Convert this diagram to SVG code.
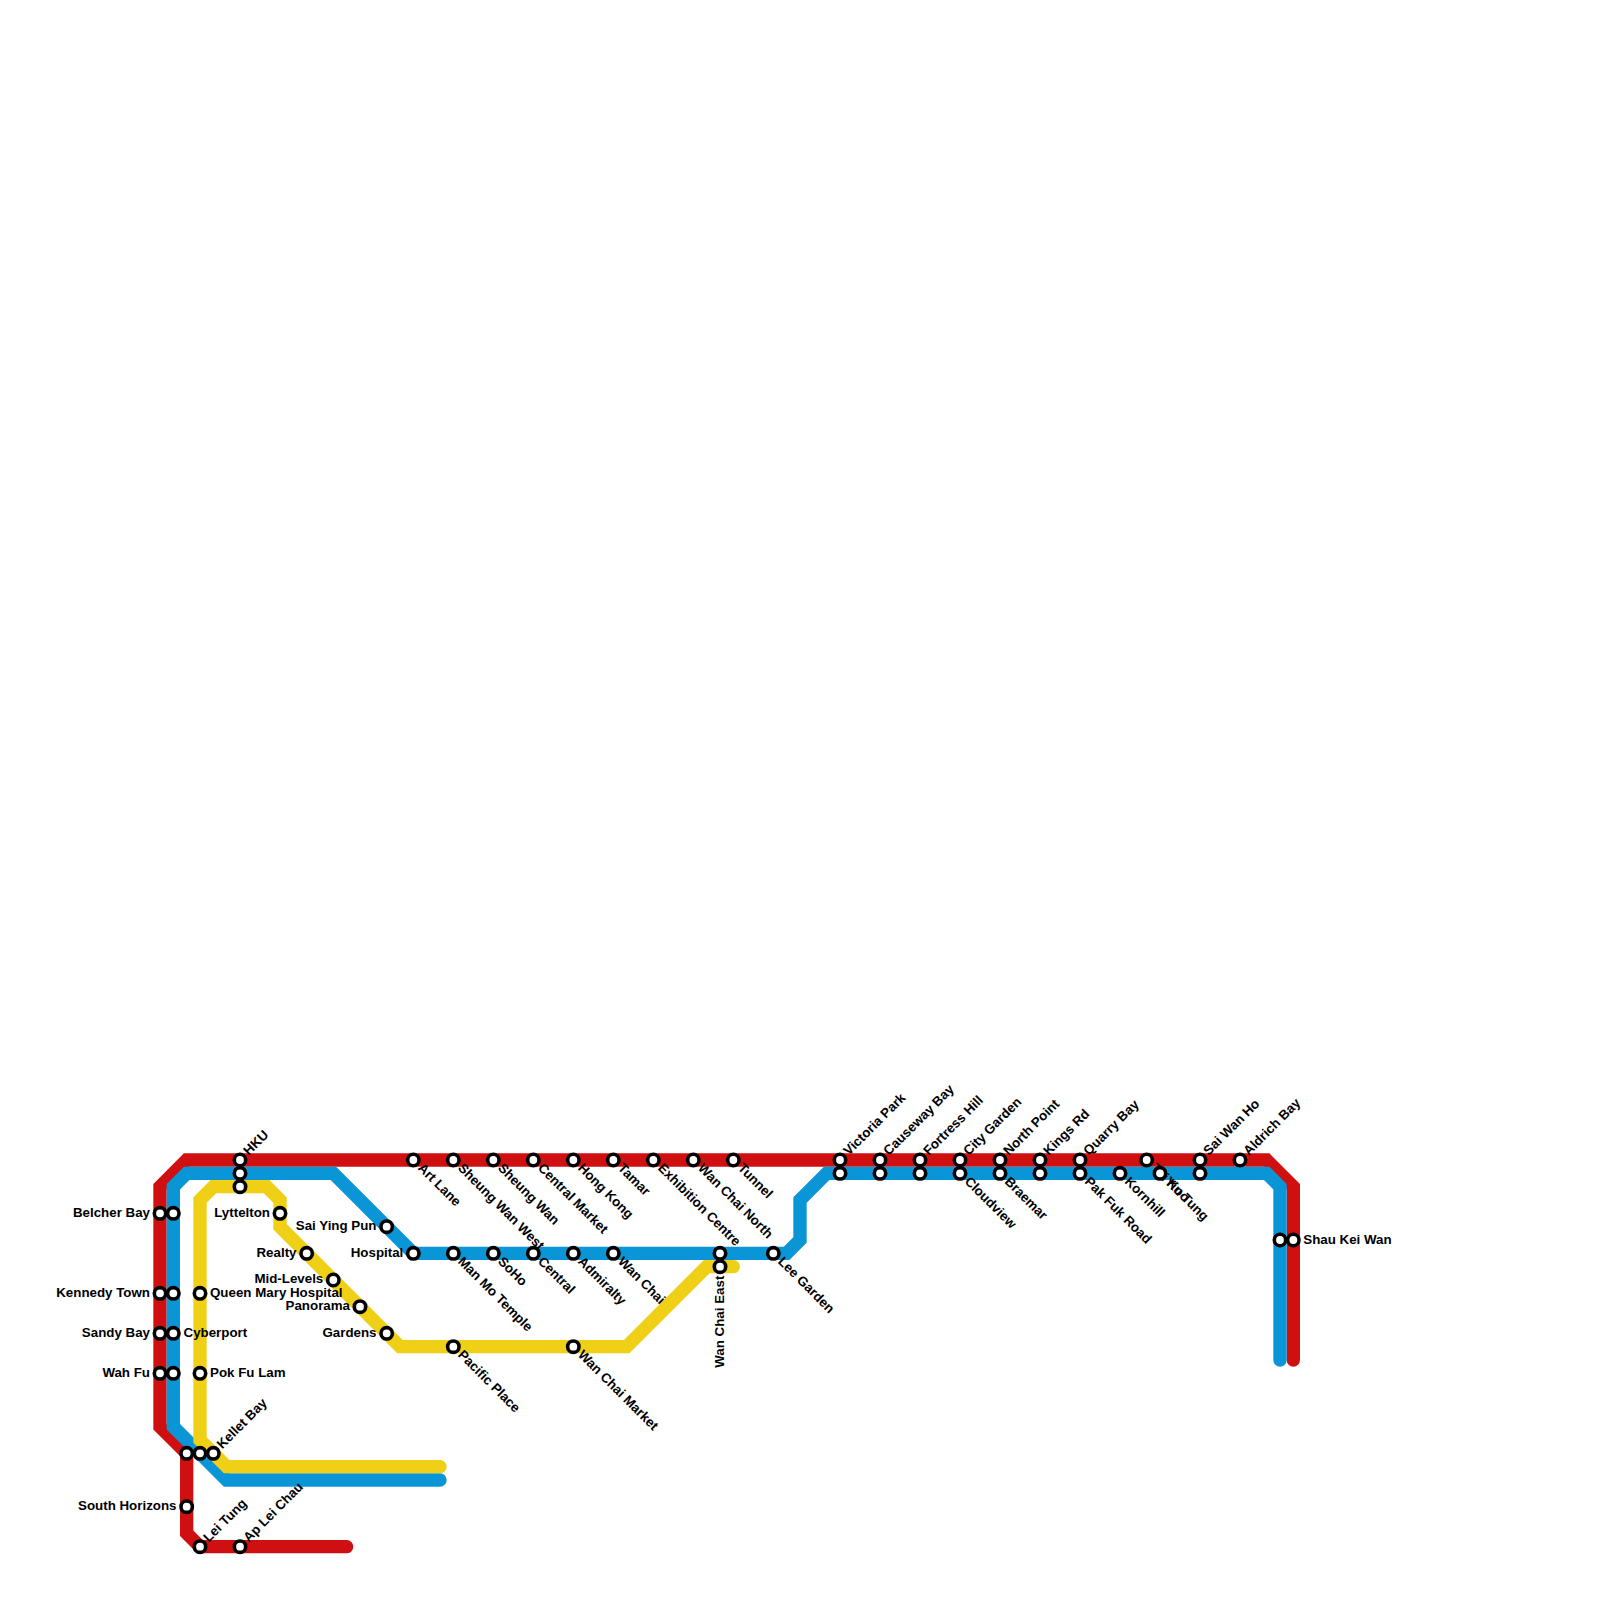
<svg xmlns="http://www.w3.org/2000/svg" width="1600" height="1600" viewBox="0 0 1600 1600">
<style>
.l{fill:none;stroke-width:13.33;stroke-linejoin:miter;stroke-linecap:round}
.s{fill:#fff;stroke:#000;stroke-width:3.6}
text{font-family:"Liberation Sans",Arial,sans-serif;font-size:13.33px;font-weight:bold;fill:#000}
.e{text-anchor:end}
</style>
<rect width="1600" height="1600" fill="#fff"/>
<g id="connectors">
<path class="l" stroke="#d01010" d="M346.67 1546.67H200L186.67 1533.33V1453.33L160 1426.67V1186.67L186.67 1160H1266.67L1293.33 1186.67V1360"/>
<path class="l" stroke="#0a96d6" d="M440 1480H226.67L173.33 1426.67V1186.67L186.67 1173.33H333.33L413.33 1253.33H786.67L800 1240V1200L826.67 1173.33H1266.67L1280 1186.67V1360"/>
<path class="l" stroke="#f0d016" d="M440 1466.67H226.67L200 1440V1200L213.33 1186.67H266.67L280 1200V1226.67L400 1346.67H626.67L706.67 1266.67H733.33"/>
</g>
<g id="n-belcher-bay"><circle class="s" cx="160" cy="1213.33" r="5.7"/><text class="e" x="150" y="1216.5">Belcher Bay</text></g>
<g id="n-kennedy-town"><circle class="s" cx="160" cy="1293.33" r="5.7"/><text class="e" x="150" y="1296.5">Kennedy Town</text></g>
<g id="n-sandy-bay"><circle class="s" cx="160" cy="1333.33" r="5.7"/><text class="e" x="150" y="1336.5">Sandy Bay</text></g>
<g id="n-wah-fu"><circle class="s" cx="160" cy="1373.33" r="5.7"/><text class="e" x="150" y="1376.5">Wah Fu</text></g>
<g id="n-b1"><circle class="s" cx="173.33" cy="1213.33" r="5.7"/></g>
<g id="n-b2"><circle class="s" cx="173.33" cy="1293.33" r="5.7"/></g>
<g id="n-cyberport"><circle class="s" cx="173.33" cy="1333.33" r="5.7"/><text x="183.5" y="1336.5">Cyberport</text></g>
<g id="n-b3"><circle class="s" cx="173.33" cy="1373.33" r="5.7"/></g>
<g id="n-queen-mary"><circle class="s" cx="200" cy="1293.33" r="5.7"/><text x="210" y="1296.5">Queen Mary Hospital</text></g>
<g id="n-pok-fu-lam"><circle class="s" cx="200" cy="1373.33" r="5.7"/><text x="210" y="1376.5">Pok Fu Lam</text></g>
<g id="n-r1"><circle class="s" cx="186.67" cy="1453.33" r="5.7"/></g>
<g id="n-b4"><circle class="s" cx="200" cy="1453.33" r="5.7"/></g>
<g id="n-kellet-bay"><circle class="s" cx="213.33" cy="1453.33" r="5.7"/><text transform="translate(213.33 1453.33) rotate(-45)" x="9" y="3.5">Kellet Bay</text></g>
<g id="n-south-horizons"><circle class="s" cx="186.67" cy="1506.67" r="5.7"/><text class="e" x="176.5" y="1510">South Horizons</text></g>
<g id="n-lei-tung"><circle class="s" cx="200" cy="1546.67" r="5.7"/><text transform="translate(200 1546.67) rotate(-45)" x="9" y="3.5">Lei Tung</text></g>
<g id="n-ap-lei-chau"><circle class="s" cx="240" cy="1546.67" r="5.7"/><text transform="translate(240 1546.67) rotate(-45)" x="9" y="3.5">Ap Lei Chau</text></g>
<g id="n-hku"><circle class="s" cx="240" cy="1160" r="5.7"/><text transform="translate(240 1160) rotate(-45)" x="9" y="3.5">HKU</text></g>
<g id="n-b5"><circle class="s" cx="240" cy="1173.33" r="5.7"/></g>
<g id="n-y1"><circle class="s" cx="240" cy="1186.67" r="5.7"/></g>
<g id="n-lyttelton"><circle class="s" cx="280" cy="1213.33" r="5.7"/><text class="e" x="270" y="1216.5">Lyttelton</text></g>
<g id="n-realty"><circle class="s" cx="306.67" cy="1253.33" r="5.7"/><text class="e" x="296.5" y="1256.5">Realty</text></g>
<g id="n-mid-levels"><circle class="s" cx="333.33" cy="1280" r="5.7"/><text class="e" x="323.3" y="1283.2">Mid-Levels</text></g>
<g id="n-panorama"><circle class="s" cx="360" cy="1306.67" r="5.7"/><text class="e" x="350" y="1309.8">Panorama</text></g>
<g id="n-gardens"><circle class="s" cx="386.67" cy="1333.33" r="5.7"/><text class="e" x="376.5" y="1336.5">Gardens</text></g>
<g id="n-sai-ying-pun"><circle class="s" cx="386.67" cy="1226.67" r="5.7"/><text class="e" x="376.5" y="1229.8">Sai Ying Pun</text></g>
<g id="n-hospital"><circle class="s" cx="413.33" cy="1253.33" r="5.7"/><text class="e" x="403.3" y="1256.5">Hospital</text></g>
<g id="n-art-lane"><circle class="s" cx="413.33" cy="1160" r="5.7"/><text transform="translate(413.33 1160) rotate(45)" x="9" y="3.5">Art Lane</text></g>
<g id="n-sheung-wan-west"><circle class="s" cx="453.33" cy="1160" r="5.7"/><text transform="translate(453.33 1160) rotate(45)" x="9" y="3.5">Sheung Wan West</text></g>
<g id="n-sheung-wan"><circle class="s" cx="493.33" cy="1160" r="5.7"/><text transform="translate(493.33 1160) rotate(45)" x="9" y="3.5">Sheung Wan</text></g>
<g id="n-central-market"><circle class="s" cx="533.33" cy="1160" r="5.7"/><text transform="translate(533.33 1160) rotate(45)" x="9" y="3.5">Central Market</text></g>
<g id="n-hong-kong"><circle class="s" cx="573.33" cy="1160" r="5.7"/><text transform="translate(573.33 1160) rotate(45)" x="9" y="3.5">Hong Kong</text></g>
<g id="n-tamar"><circle class="s" cx="613.33" cy="1160" r="5.7"/><text transform="translate(613.33 1160) rotate(45)" x="9" y="3.5">Tamar</text></g>
<g id="n-exhibition-centre"><circle class="s" cx="653.33" cy="1160" r="5.7"/><text transform="translate(653.33 1160) rotate(45)" x="9" y="3.5">Exhibition Centre</text></g>
<g id="n-wan-chai-north"><circle class="s" cx="693.33" cy="1160" r="5.7"/><text transform="translate(693.33 1160) rotate(45)" x="9" y="3.5">Wan Chai North</text></g>
<g id="n-tunnel"><circle class="s" cx="733.33" cy="1160" r="5.7"/><text transform="translate(733.33 1160) rotate(45)" x="9" y="3.5">Tunnel</text></g>
<g id="n-man-mo-temple"><circle class="s" cx="453.33" cy="1253.33" r="5.7"/><text transform="translate(453.33 1253.33) rotate(45)" x="9" y="3.5">Man Mo Temple</text></g>
<g id="n-soho"><circle class="s" cx="493.33" cy="1253.33" r="5.7"/><text transform="translate(493.33 1253.33) rotate(45)" x="9" y="3.5">SoHo</text></g>
<g id="n-central"><circle class="s" cx="533.33" cy="1253.33" r="5.7"/><text transform="translate(533.33 1253.33) rotate(45)" x="9" y="3.5">Central</text></g>
<g id="n-admiralty"><circle class="s" cx="573.33" cy="1253.33" r="5.7"/><text transform="translate(573.33 1253.33) rotate(45)" x="9" y="3.5">Admiralty</text></g>
<g id="n-wan-chai"><circle class="s" cx="613.33" cy="1253.33" r="5.7"/><text transform="translate(613.33 1253.33) rotate(45)" x="9" y="3.5">Wan Chai</text></g>
<g id="n-b6"><circle class="s" cx="720" cy="1253.33" r="5.7"/></g>
<g id="n-lee-garden"><circle class="s" cx="773.33" cy="1253.33" r="5.7"/><text transform="translate(773.33 1253.33) rotate(45)" x="9" y="3.5">Lee Garden</text></g>
<g id="n-pacific-place"><circle class="s" cx="453.33" cy="1346.67" r="5.7"/><text transform="translate(453.33 1346.67) rotate(45)" x="9" y="3.5">Pacific Place</text></g>
<g id="n-wan-chai-market"><circle class="s" cx="573.33" cy="1346.67" r="5.7"/><text transform="translate(573.33 1346.67) rotate(45)" x="9" y="3.5">Wan Chai Market</text></g>
<g id="n-wan-chai-east"><circle class="s" cx="720" cy="1266.67" r="5.7"/><text class="e" transform="translate(720 1266.67) rotate(-90)" x="-9" y="3.5">Wan Chai East</text></g>
<g id="n-victoria-park"><circle class="s" cx="840" cy="1160" r="5.7"/><text transform="translate(840 1160) rotate(-45)" x="9" y="3.5">Victoria Park</text></g>
<g id="n-causeway-bay"><circle class="s" cx="880" cy="1160" r="5.7"/><text transform="translate(880 1160) rotate(-45)" x="9" y="3.5">Causeway Bay</text></g>
<g id="n-fortress-hill"><circle class="s" cx="920" cy="1160" r="5.7"/><text transform="translate(920 1160) rotate(-45)" x="9" y="3.5">Fortress Hill</text></g>
<g id="n-city-garden"><circle class="s" cx="960" cy="1160" r="5.7"/><text transform="translate(960 1160) rotate(-45)" x="9" y="3.5">City Garden</text></g>
<g id="n-north-point"><circle class="s" cx="1000" cy="1160" r="5.7"/><text transform="translate(1000 1160) rotate(-45)" x="9" y="3.5">North Point</text></g>
<g id="n-kings-rd"><circle class="s" cx="1040" cy="1160" r="5.7"/><text transform="translate(1040 1160) rotate(-45)" x="9" y="3.5">Kings Rd</text></g>
<g id="n-quarry-bay"><circle class="s" cx="1080" cy="1160" r="5.7"/><text transform="translate(1080 1160) rotate(-45)" x="9" y="3.5">Quarry Bay</text></g>
<g id="n-tai-koo"><circle class="s" cx="1146.67" cy="1160" r="5.7"/><text transform="translate(1146.67 1160) rotate(45)" x="9" y="3.5">Tai Koo</text></g>
<g id="n-sai-wan-ho"><circle class="s" cx="1200" cy="1160" r="5.7"/><text transform="translate(1200 1160) rotate(-45)" x="9" y="3.5">Sai Wan Ho</text></g>
<g id="n-aldrich-bay"><circle class="s" cx="1240" cy="1160" r="5.7"/><text transform="translate(1240 1160) rotate(-45)" x="9" y="3.5">Aldrich Bay</text></g>
<g id="n-b7"><circle class="s" cx="840" cy="1173.33" r="5.7"/></g>
<g id="n-b8"><circle class="s" cx="880" cy="1173.33" r="5.7"/></g>
<g id="n-b9"><circle class="s" cx="920" cy="1173.33" r="5.7"/></g>
<g id="n-cloudview"><circle class="s" cx="960" cy="1173.33" r="5.7"/><text transform="translate(960 1173.33) rotate(45)" x="9" y="3.5">Cloudview</text></g>
<g id="n-braemar"><circle class="s" cx="1000" cy="1173.33" r="5.7"/><text transform="translate(1000 1173.33) rotate(45)" x="9" y="3.5">Braemar</text></g>
<g id="n-b10"><circle class="s" cx="1040" cy="1173.33" r="5.7"/></g>
<g id="n-pak-fuk-road"><circle class="s" cx="1080" cy="1173.33" r="5.7"/><text transform="translate(1080 1173.33) rotate(45)" x="9" y="3.5">Pak Fuk Road</text></g>
<g id="n-kornhill"><circle class="s" cx="1120" cy="1173.33" r="5.7"/><text transform="translate(1120 1173.33) rotate(45)" x="9" y="3.5">Kornhill</text></g>
<g id="n-yiu-tung"><circle class="s" cx="1160" cy="1173.33" r="5.7"/><text transform="translate(1160 1173.33) rotate(45)" x="9" y="3.5">Yiu Tung</text></g>
<g id="n-b11"><circle class="s" cx="1200" cy="1173.33" r="5.7"/></g>
<g id="n-b12"><circle class="s" cx="1280" cy="1240" r="5.7"/></g>
<g id="n-shau-kei-wan"><circle class="s" cx="1293.33" cy="1240" r="5.7"/><text x="1303.3" y="1243.5">Shau Kei Wan</text></g>
</svg>
